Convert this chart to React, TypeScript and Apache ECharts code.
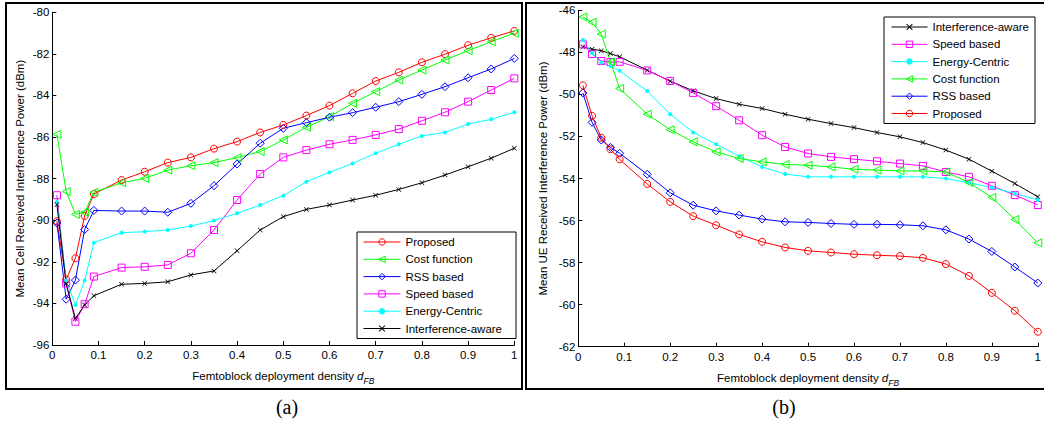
import React, { useEffect, useRef } from "react";
import * as echarts from "echarts";

// ---------- data ----------
const density = [0.01, 0.03, 0.05, 0.07, 0.09, 0.15, 0.2, 0.25, 0.3, 0.35, 0.4, 0.45, 0.5, 0.55, 0.6, 0.65, 0.7, 0.75, 0.8, 0.85, 0.9, 0.95, 1.0];

// (a) Mean cell received interference power (dBm)
const cellProposed = [-90.05, -92.85, -91.83, -89.8, -88.74, -88.07, -87.67, -87.23, -86.98, -86.56, -86.22, -85.78, -85.42, -84.97, -84.49, -83.9, -83.31, -82.89, -82.41, -82.02, -81.59, -81.23, -80.9];
const cellCost = [-85.87, -88.62, -89.72, -89.62, -88.66, -88.2, -87.99, -87.59, -87.38, -87.23, -86.99, -86.7, -86.14, -85.53, -85.02, -84.38, -83.82, -83.26, -82.78, -82.3, -81.85, -81.42, -81.01];
const cellRSS = [-90.14, -93.8, -92.88, -90.45, -89.53, -89.56, -89.56, -89.62, -89.19, -88.34, -87.3, -86.3, -85.58, -85.31, -85.05, -84.83, -84.57, -84.3, -83.95, -83.58, -83.15, -82.73, -82.22];
const cellSpeed = [-88.8, -93.04, -94.88, -94.04, -92.71, -92.28, -92.24, -92.15, -91.59, -90.47, -89.03, -87.78, -86.98, -86.63, -86.35, -86.14, -85.9, -85.62, -85.22, -84.81, -84.3, -83.74, -83.18];
const cellEnergy = [-89.12, -92.9, -94.08, -92.9, -91.08, -90.6, -90.55, -90.47, -90.28, -90.02, -89.67, -89.27, -88.82, -88.15, -87.7, -87.27, -86.78, -86.35, -85.95, -85.78, -85.38, -85.15, -84.81];
const cellInterf = [-89.25, -93.06, -94.72, -94.08, -93.63, -93.08, -93.04, -92.96, -92.63, -92.44, -91.47, -90.47, -89.83, -89.48, -89.27, -89.03, -88.8, -88.52, -88.2, -87.83, -87.43, -87.02, -86.54];

// (b) Mean UE received interference power (dBm)
const ueInterf = [-47.74, -47.85, -47.92, -48.06, -48.21, -48.85, -49.37, -49.83, -50.2, -50.47, -50.67, -50.94, -51.18, -51.39, -51.58, -51.81, -52.02, -52.29, -52.65, -53.08, -53.65, -54.24, -54.87];
const ueSpeed = [-47.62, -48.08, -48.41, -48.46, -48.45, -48.86, -49.36, -49.93, -50.56, -51.23, -51.94, -52.5, -52.81, -52.97, -53.08, -53.18, -53.29, -53.4, -53.69, -53.92, -54.35, -54.79, -55.26];
const ueEnergy = [-47.41, -48.03, -48.48, -48.65, -48.88, -49.84, -50.94, -51.81, -52.37, -52.94, -53.45, -53.79, -53.92, -53.92, -53.92, -53.92, -53.92, -53.92, -54.0, -54.2, -54.43, -54.71, -55.02];
const ueCost = [-46.32, -46.57, -47.13, -48.45, -49.72, -50.94, -51.68, -52.26, -52.73, -53.05, -53.21, -53.33, -53.37, -53.45, -53.56, -53.6, -53.64, -53.64, -53.69, -54.19, -54.9, -55.95, -57.06];
const ueRSS = [-49.93, -51.33, -52.17, -52.52, -52.8, -53.8, -54.68, -55.27, -55.54, -55.74, -55.93, -56.06, -56.09, -56.14, -56.18, -56.18, -56.2, -56.25, -56.44, -56.88, -57.47, -58.21, -58.97];
const ueProposed = [-49.57, -51.02, -52.06, -52.61, -53.09, -54.26, -55.11, -55.79, -56.22, -56.66, -57.01, -57.28, -57.44, -57.52, -57.6, -57.65, -57.69, -57.77, -58.07, -58.63, -59.44, -60.29, -61.29];

const legendA = ["Proposed", "Cost function", "RSS based", "Speed based", "Energy-Centric", "Interference-aware"];
const legendB = ["Interference-aware", "Speed based", "Energy-Centric", "Cost function", "RSS based", "Proposed"];

const xTickLabels = ["0", "0.1", "0.2", "0.3", "0.4", "0.5", "0.6", "0.7", "0.8", "0.9", "1"];

// ---------- styles ----------
const FONT = "'Liberation Sans', Arial, Helvetica, sans-serif";
const XMARK = "path://M0,1L1,0L5,4L9,0L10,1L6,5L10,9L9,10L5,6L1,10L0,9L4,5Z";
const LTRI = "path://M0,5L10,0L10,10Z";

const styles: Record<string, { color: string; symbol: string; size: number; hollow: boolean }> = {
  "Proposed": { color: "#ff0000", symbol: "circle", size: 7, hollow: true },
  "Cost function": { color: "#00ff00", symbol: LTRI, size: 8, hollow: true },
  "RSS based": { color: "#0000ff", symbol: "diamond", size: 8, hollow: true },
  "Speed based": { color: "#ff00ff", symbol: "rect", size: 7, hollow: true },
  "Energy-Centric": { color: "#00ffff", symbol: "circle", size: 4, hollow: false },
  "Interference-aware": { color: "#000000", symbol: XMARK, size: 5, hollow: false },
};

function itemStyleOf(name: string) {
  const s = styles[name];
  return s.hollow
    ? { color: "rgba(255,255,255,0)", borderColor: s.color, borderWidth: 1 }
    : { color: s.color, borderWidth: 0 };
}

function makeSeries(name: string, values: number[], idx: number) {
  const s = styles[name];
  return {
    type: "line",
    name,
    xAxisIndex: idx,
    yAxisIndex: idx,
    data: values.map((v, i) => [density[i], v]),
    symbol: s.symbol,
    symbolSize: s.size,
    showAllSymbol: true,
    lineStyle: { color: s.color, width: 1 },
    itemStyle: itemStyleOf(name),
    emphasis: { disabled: true },
    z: 3,
  };
}

function xAxis(gridIndex: number) {
  return {
    type: "value",
    gridIndex,
    min: 0,
    max: 1,
    interval: 0.1,
    axisLine: { show: true, lineStyle: { color: "#000", width: 1 } },
    axisTick: { show: true, inside: true, length: 4, lineStyle: { color: "#000" } },
    splitLine: { show: false },
    axisLabel: {
      color: "#000",
      fontFamily: FONT,
      fontSize: 11.5,
      margin: 4,
      formatter: (v: number) => xTickLabels[Math.round(v * 10)] ?? "",
    },
    name: "Femtoblock deployment density {i|d}{s|FB}",
    nameLocation: "middle",
    nameGap: 19,
    nameTextStyle: {
      color: "#000",
      fontFamily: FONT,
      fontSize: 11.5,
      lineHeight: 16,
      rich: {
        i: { fontStyle: "italic", fontFamily: FONT, fontSize: 11.5, color: "#000", lineHeight: 16 },
        s: { fontStyle: "italic", fontFamily: FONT, fontSize: 8.5, color: "#000", lineHeight: 20, verticalAlign: "bottom" },
      },
    },
  };
}

function yAxis(gridIndex: number, min: number, max: number, name: string, gap: number) {
  return {
    type: "value",
    gridIndex,
    min,
    max,
    interval: 2,
    axisLine: { show: true, lineStyle: { color: "#000", width: 1 } },
    axisTick: { show: true, inside: true, length: 4, lineStyle: { color: "#000" } },
    splitLine: { show: false },
    axisLabel: { color: "#000", fontFamily: FONT, fontSize: 11.5, margin: 3 },
    name,
    nameLocation: "middle",
    nameGap: gap,
    nameTextStyle: { color: "#000", fontFamily: FONT, fontSize: 11.5 },
  };
}

function legend(names: string[], left: number, top: number, padding: number[], itemWidth: number) {
  return {
    data: names.map((n) => ({
      name: n,
      itemStyle: itemStyleOf(n),
      lineStyle: { color: styles[n].color, width: 1 },
    })),
    orient: "vertical",
    left,
    top,
    padding,
    itemWidth,
    itemHeight: 8,
    itemGap: 3.3,
    backgroundColor: "#fff",
    borderColor: "#000",
    borderWidth: 1,
    borderRadius: 0,
    selectedMode: false,
    textStyle: { color: "#000", fontFamily: FONT, fontSize: 11.5, lineHeight: 14 },
  };
}

export default function App() {
  const ref = useRef<HTMLDivElement>(null);

  useEffect(() => {
    if (!ref.current) return;
    const chart = echarts.init(ref.current, undefined, { renderer: "svg" });

    const option = {
      animation: false,
      backgroundColor: "#fff",
      grid: [
        { left: 52.3, top: 12.2, width: 462, height: 332.8, containLabel: false },
        { left: 578.3, top: 10.3, width: 463, height: 336.4, containLabel: false },
      ],
      xAxis: [xAxis(0), xAxis(1)],
      yAxis: [
        yAxis(0, -96, -80, "Mean Cell Received Interference Power (dBm)", 26),
        yAxis(1, -62, -46, "Mean UE Received Interference Power (dBm)", 29),
      ],
      legend: [
        legend(legendA, 357, 232, [3, 14, 3, 6], 37),
        legend(legendB, 884, 17, [3, 6, 3, 7], 36),
      ],
      series: [
        makeSeries("Proposed", cellProposed, 0),
        makeSeries("Cost function", cellCost, 0),
        makeSeries("RSS based", cellRSS, 0),
        makeSeries("Speed based", cellSpeed, 0),
        makeSeries("Energy-Centric", cellEnergy, 0),
        makeSeries("Interference-aware", cellInterf, 0),
        makeSeries("Interference-aware", ueInterf, 1),
        makeSeries("Speed based", ueSpeed, 1),
        makeSeries("Energy-Centric", ueEnergy, 1),
        makeSeries("Cost function", ueCost, 1),
        makeSeries("RSS based", ueRSS, 1),
        makeSeries("Proposed", ueProposed, 1),
      ],
      graphic: [
        { type: "rect", shape: { x: 6, y: 3, width: 516, height: 386 }, style: { fill: "none", stroke: "#000", lineWidth: 2 }, silent: true, z: 0 },
        { type: "rect", shape: { x: 526, y: 3, width: 530, height: 386 }, style: { fill: "none", stroke: "#000", lineWidth: 2 }, silent: true, z: 0 },
        { type: "text", x: 287, y: 407, style: { text: "(a)", fill: "#000", font: "20px 'Liberation Serif', 'Times New Roman', serif", textAlign: "center", textVerticalAlign: "middle" }, silent: true },
        { type: "text", x: 784, y: 407, style: { text: "(b)", fill: "#000", font: "20px 'Liberation Serif', 'Times New Roman', serif", textAlign: "center", textVerticalAlign: "middle" }, silent: true },
      ],
    };

    chart.setOption(option as any);
    return () => chart.dispose();
  }, []);

  return (
    <div
      ref={ref}
      style={{ position: "fixed", left: 0, top: 0, width: 1044, height: 423, background: "#fff" }}
    />
  );
}
